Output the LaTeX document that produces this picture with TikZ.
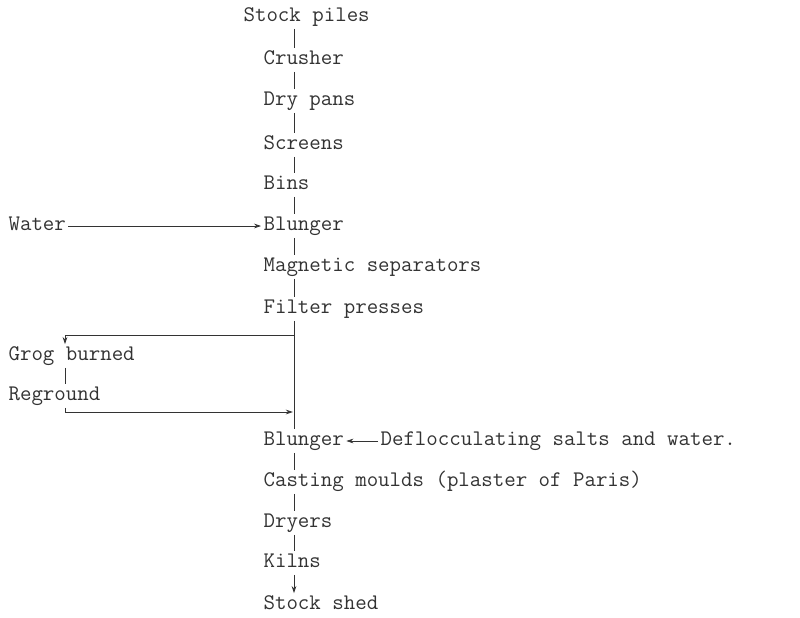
\documentclass[tikz,border=0pt]{standalone}
\usetikzlibrary{arrows.meta, positioning}
\begin{document}
\begin{tikzpicture}[x=0.03cm, y=-0.03cm,
    every node/.style={font=\ttfamily\fontsize{19}{22}\selectfont, text=black!80,
      inner sep=2pt, anchor=west, text height=12pt, text depth=4pt},
    conn/.style={draw=black!80, line width=0.6pt},
    arr/.style={conn, -{Stealth[length=6pt, width=4pt]}}]
  \useasboundingbox[fill=white] (0,0) rectangle (800,618);
  \coordinate (spine) at (294,0);
  \coordinate (loop) at (65,0);

  \node (stock) at (241,17) {Stock piles};
  \node (crusher) at (261,60) {Crusher};
  \node (drypans) at (261,101) {Dry pans};
  \node (screens) at (261,145) {Screens};
  \node (bins) at (261,185) {Bins};
  \node (water) at (6,226) {Water};
  \node (blunger) at (261,226) {Blunger};
  \node (magsep) at (261,267) {Magnetic separators};
  \node (filter) at (261,309) {Filter presses};
  \node (grog) at (6,356) {Grog burned};
  \node (reground) at (6,396) {Reground};
  \node (blungerb) at (261,441) {Blunger};
  \node (defl) at (378,441) {Deflocculating salts and water.};
  \node (casting) at (261,482) {Casting moulds (plaster of Paris)};
  \node (dryers) at (261,523) {Dryers};
  \node (kilns) at (261,563) {Kilns};
  \node (shed) at (261,605) {Stock shed};

  \foreach \a/\b in {stock/crusher, crusher/drypans, drypans/screens, screens/bins,
      bins/blunger, blunger/magsep, magsep/filter, filter/blungerb,
      blungerb/casting, casting/dryers, dryers/kilns}
    \draw[conn] (\a.south -| spine) -- (\b.north -| spine);
  \draw[arr] (kilns.south -| spine) -- (shed.north -| spine);

  \draw[arr] (water.east) -- (blunger.west);
  \draw[arr] (defl.west) -- (blungerb.east);

  \coordinate (fork) at (294,335);
  \coordinate (join) at (294,412);
  \draw[arr] (fork) -| (grog.north -| loop);
  \draw[conn] (grog.south -| loop) -- (reground.north -| loop);
  \draw[arr, shorten >=1pt] (reground.south -| loop) |- (join);
\end{tikzpicture}
\end{document}
